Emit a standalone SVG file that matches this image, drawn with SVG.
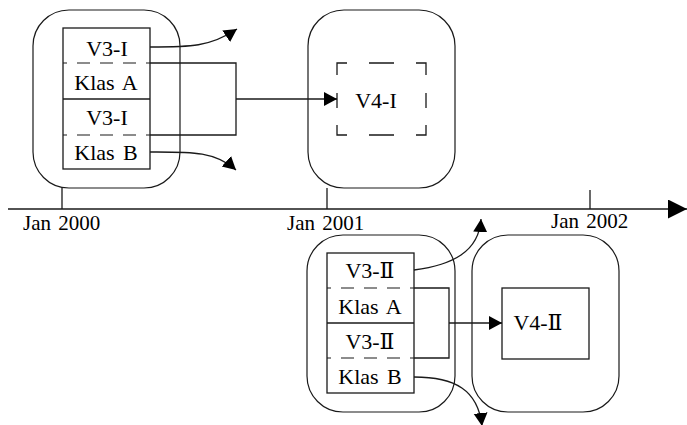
<svg xmlns="http://www.w3.org/2000/svg" width="687" height="425" viewBox="0 0 687 425">
<style>
  .frame{fill:none;stroke:#1a1a1a;stroke-width:1.2}
  .box{fill:#fff;stroke:#1a1a1a;stroke-width:1.3}
  .sep{stroke:#1a1a1a;stroke-width:1.2;stroke-dasharray:13 10}
  .solid{stroke:#1a1a1a;stroke-width:1.3}
  .lbl{font-family:"Liberation Serif","DejaVu Serif","Noto Sans CJK SC",serif;font-size:22px;fill:#000;text-anchor:middle;word-spacing:3px}
  .date{font-family:"Liberation Serif","DejaVu Serif",serif;font-size:21px;fill:#000;word-spacing:2px}
  .conn{fill:none;stroke:#1a1a1a;stroke-width:1.3}
</style>
<defs>
  <marker id="ah" markerUnits="userSpaceOnUse" markerWidth="15" markerHeight="15" refX="13" refY="7" orient="auto">
    <path d="M0,0 L13,7 L0,14 Z" fill="#000"/>
  </marker>
  <marker id="big" markerUnits="userSpaceOnUse" markerWidth="20" markerHeight="20" refX="19" refY="9.5" orient="auto">
    <path d="M0,0 L19,9.5 L0,19 Z" fill="#000"/>
  </marker>
</defs>

<g id="timeline">
  <line class="solid" x1="8" y1="209" x2="687" y2="209" marker-end="url(#big)"/>
  <line class="solid" x1="62" y1="188" x2="62" y2="209"/>
  <line class="solid" x1="327" y1="188" x2="327" y2="209"/>
  <line class="solid" x1="590" y1="190" x2="590" y2="209"/>
  <text class="date" x="23" y="230">Jan 2000</text>
  <text class="date" x="287" y="230">Jan 2001</text>
  <text class="date" x="551" y="228">Jan 2002</text>
</g>

<g id="period-2000">
  <rect class="frame" x="33" y="10" width="147" height="178" rx="36" ry="36"/>
</g>
<g id="period-2001">
  <rect class="frame" x="308" y="10" width="147" height="178" rx="36" ry="36"/>
</g>
<g id="period-2001b">
  <rect class="frame" x="307" y="235" width="148" height="177" rx="36" ry="36"/>
</g>
<g id="period-2002">
  <rect class="frame" x="472" y="235" width="147" height="177" rx="36" ry="36"/>
</g>

<g id="v3-i">
  <rect class="box" x="63" y="28" width="87" height="141"/>
  <line class="sep" x1="63" y1="63" x2="150" y2="63" stroke-dashoffset="9"/>
  <line class="solid" x1="63" y1="99" x2="150" y2="99"/>
  <line class="sep" x1="63" y1="135" x2="150" y2="135" stroke-dashoffset="9"/>
  <text class="lbl" x="107" y="56">V3-I</text>
  <text class="lbl" x="106" y="90">Klas A</text>
  <text class="lbl" x="107" y="125">V3-I</text>
  <text class="lbl" x="106" y="160">Klas B</text>
</g>

<g id="v4-i">
  <path class="solid" fill="none" d="M337,75 V63 H347 M369,63 H394 M416,63 H426 V75 M426,93 V108 M426,125 V135 H416 M394,135 H369 M347,135 H337 V125 M337,93 V108"/>
  <text class="lbl" x="376" y="108">V4-I</text>
</g>

<g id="v3-ii">
  <rect class="box" x="327" y="253" width="87" height="140"/>
  <line class="sep" x1="327" y1="288" x2="414" y2="288" stroke-dashoffset="9"/>
  <line class="solid" x1="327" y1="323" x2="414" y2="323"/>
  <line class="sep" x1="327" y1="358" x2="414" y2="358" stroke-dashoffset="9"/>
  <text class="lbl" x="370" y="278">V3-Ⅱ</text>
  <text class="lbl" x="370" y="314">Klas A</text>
  <text class="lbl" x="370" y="349">V3-Ⅱ</text>
  <text class="lbl" x="370" y="384">Klas B</text>
</g>

<g id="v4-ii">
  <rect class="box" x="502" y="288" width="87" height="71"/>
  <text class="lbl" x="538" y="330">V4-Ⅱ</text>
</g>

<g id="connectors">
  <path class="conn" d="M150,63 H236 V135 H150"/>
  <path class="conn" d="M236,99 H337" marker-end="url(#ah)"/>
  <path class="conn" d="M150,47 C190,47 210,47 237,29" marker-end="url(#ah)"/>
  <path class="conn" d="M150,152 C190,152 215,151 236,170" marker-end="url(#ah)"/>
  <path class="conn" d="M414,270 C452,265 479,252 481,219" marker-end="url(#ah)"/>
  <path class="conn" d="M414,377 C455,377 478,390 482,426" marker-end="url(#ah)"/>
  <path class="conn" d="M414,288 H449 V358 H414"/>
  <path class="conn" d="M449,323 H502" marker-end="url(#ah)"/>
</g>
</svg>
